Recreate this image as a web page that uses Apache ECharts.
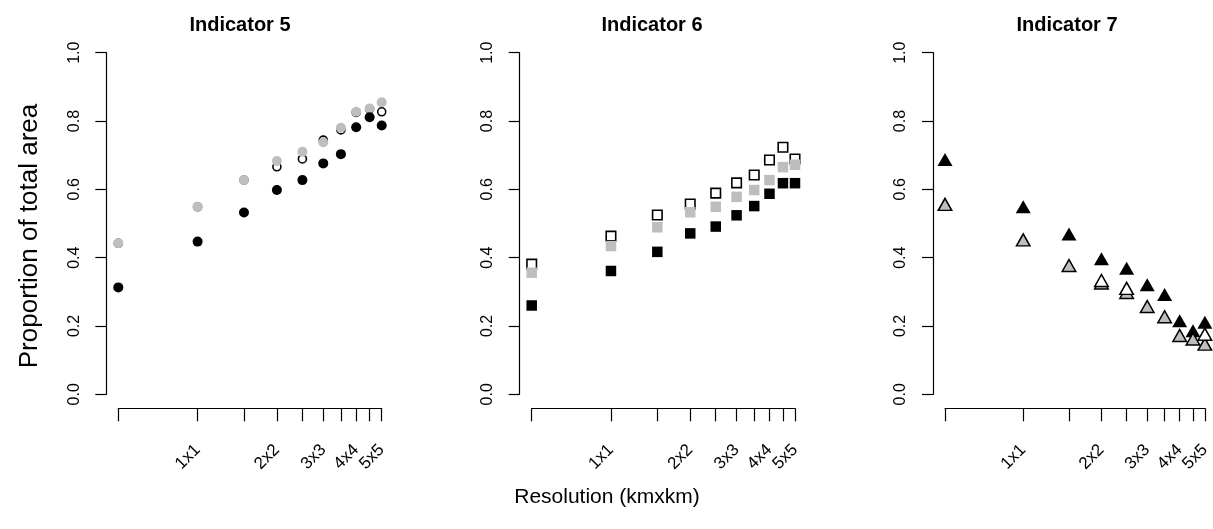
<!DOCTYPE html>
<html>
<head>
<meta charset="utf-8">
<script src="https://cdn.jsdelivr.net/npm/echarts@6/dist/echarts.min.js"></script>
<style>
html,body{margin:0;padding:0;background:#fff;}
#chart{width:1213px;height:529px;}
</style>
</head>
<body>
<div id="chart"></div>
<script>
// ---- data ----
var resolution = [0.5, 1, 1.5, 2, 2.5, 3, 3.5, 4, 4.5, 5];
var tickValues = [0.5, 1, 1.5, 2, 2.5, 3, 3.5, 4, 4.5, 5];
var labelValues = [1, 2, 3, 4, 5];
var labelTexts = ['1x1', '2x2', '3x3', '4x4', '5x5'];
var titles = ['Indicator 5', 'Indicator 6', 'Indicator 7'];

// Indicator 5 (circles)
var ind5Open  = [0.442, 0.549, 0.627, 0.666, 0.689, 0.744, 0.774, 0.825, 0.835, 0.827];
var ind5Gray  = [0.442, 0.549, 0.627, 0.683, 0.710, 0.738, 0.780, 0.827, 0.837, 0.855];
var ind5Black = [0.313, 0.447, 0.532, 0.598, 0.627, 0.676, 0.703, 0.782, 0.811, 0.787];

// Indicator 6 (squares)
var ind6Open  = [0.381, 0.463, 0.525, 0.557, 0.589, 0.619, 0.642, 0.686, 0.723, 0.689];
var ind6Gray  = [0.356, 0.434, 0.489, 0.533, 0.549, 0.578, 0.598, 0.627, 0.665, 0.672];
var ind6Black = [0.260, 0.361, 0.417, 0.471, 0.491, 0.524, 0.551, 0.587, 0.618, 0.618];

// Indicator 7 (triangles)
var ind7Black = [0.687, 0.549, 0.469, 0.397, 0.369, 0.321, 0.292, 0.215, 0.186, 0.211];
var ind7Gray  = [0.556, 0.452, 0.377, 0.326, 0.298, 0.257, 0.227, 0.172, 0.162, 0.147];
var ind7Open  = [null, null, null, 0.333, 0.310, null, null, null, null, 0.176];

// ---- layout ----
var FONT = 'Liberation Sans, Arial, sans-serif';
var GRAY = '#bebebe';
var panels = [
  {left: 118.3, width: 263.4, titleX: 235},
  {left: 531.7, width: 263.3, titleX: 647},
  {left: 945.0, width: 262.3, titleX: 1062}
];
var TOP = 52.7, HEIGHT = 341.6;

function pairs(ys) {
  var out = [];
  for (var i = 0; i < resolution.length; i++) {
    if (ys[i] !== null && ys[i] !== undefined) out.push([resolution[i], ys[i]]);
  }
  return out;
}

var grid = [], xAxis = [], yAxis = [], title = [], series = [];
panels.forEach(function (p, i) {
  grid.push({left: p.left, top: TOP, width: p.width, height: HEIGHT, containLabel: false});
  title.push({
    text: titles[i], left: p.titleX, top: 10, textAlign: 'center',
    textStyle: {fontFamily: FONT, fontSize: 20, fontWeight: 'bold', color: '#000'}
  });
  xAxis.push({
    gridIndex: i, type: 'log', logBase: 10, min: 0.5, max: 5,
    offset: 14,
    axisLine: {show: true, onZero: false, lineStyle: {color: '#000', width: 1.2}},
    axisTick: {show: true, customValues: tickValues, length: 13, lineStyle: {color: '#000', width: 1.2}},
    axisLabel: {
      show: true, customValues: labelValues, rotate: 45, margin: 39,
      fontFamily: FONT, fontSize: 17, color: '#000',
      formatter: function (v) {
        var idx = labelValues.indexOf(Math.round(v));
        return idx >= 0 ? labelTexts[idx] : '';
      }
    },
    splitLine: {show: false}, minorTick: {show: false}, minorSplitLine: {show: false}
  });
  yAxis.push({
    gridIndex: i, type: 'value', min: 0, max: 1, interval: 0.2,
    offset: 12,
    axisLine: {show: true, onZero: false, lineStyle: {color: '#000', width: 1.2}},
    axisTick: {show: true, length: 11, lineStyle: {color: '#000', width: 1.2}},
    axisLabel: {
      show: true, rotate: 90, margin: 24,
      fontFamily: FONT, fontSize: 16, color: '#000',
      formatter: function (v) { return v.toFixed(1); }
    },
    splitLine: {show: false}
  });
});

function sc(idx, data, symbol, size, fill, border, bw, z) {
  return {
    type: 'scatter', xAxisIndex: idx, yAxisIndex: idx, data: pairs(data),
    symbol: symbol, symbolSize: size, clip: false, z: z,
    itemStyle: {color: fill, borderColor: border, borderWidth: bw, opacity: 1},
    emphasis: {disabled: true}, silent: true
  };
}

// Indicator 5
series.push(sc(0, ind5Open, 'circle', 8, '#ffffff', '#000', 1.6, 2));
series.push(sc(0, ind5Gray, 'circle', 10, GRAY, GRAY, 0, 3));
series.push(sc(0, ind5Black, 'circle', 10, '#000', '#000', 0, 4));
// Indicator 6
series.push(sc(1, ind6Open, 'rect', 9.5, '#ffffff', '#000', 1.6, 2));
series.push(sc(1, ind6Gray, 'rect', 10.5, GRAY, GRAY, 0, 3));
series.push(sc(1, ind6Black, 'rect', 10.5, '#000', '#000', 0, 4));
// Indicator 7
series.push(sc(2, ind7Black, 'triangle', [15, 13], '#000', '#000', 0, 2));
series.push(sc(2, ind7Gray, 'triangle', [13.5, 12], GRAY, '#000', 1.5, 3));
series.push(sc(2, ind7Open, 'triangle', [13.5, 12], '#ffffff', '#000', 1.5, 4));

var chart = echarts.init(document.getElementById('chart'), null, {renderer: 'canvas'});
chart.setOption({
  backgroundColor: '#ffffff',
  animation: false,
  title: title,
  grid: grid,
  xAxis: xAxis,
  yAxis: yAxis,
  series: series,
  graphic: [
    {
      type: 'text', x: 30, y: 236, rotation: Math.PI / 2,
      style: {text: 'Proportion of total area', fontFamily: FONT, fontSize: 26, fill: '#000',
              align: 'center', verticalAlign: 'middle'}
    },
    {
      type: 'text', x: 607, y: 497,
      style: {text: 'Resolution (kmxkm)', fontFamily: FONT, fontSize: 21, fill: '#000',
              align: 'center', verticalAlign: 'middle'}
    }
  ]
});
</script>
</body>
</html>
